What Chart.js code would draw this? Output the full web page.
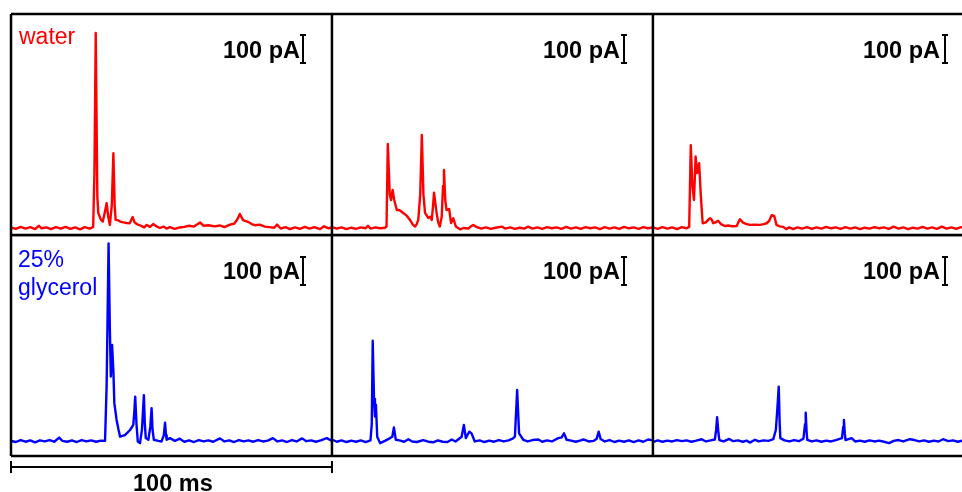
<!DOCTYPE html>
<html>
<head>
<meta charset="utf-8">
<script src="https://cdn.jsdelivr.net/npm/chart.js@4"></script>
<style>
  html, body { margin: 0; padding: 0; background: #fff; }
  body { width: 962px; height: 492px; position: relative; overflow: hidden; font-family: "Liberation Sans", Arial, sans-serif; }
  canvas { position: absolute; left: 0; }
  #topRow { top: 0; }
  #bottomRow { top: 235px; }
  .lbl { position: absolute; font-size: 23px; white-space: nowrap; }
  .pa { font-weight: bold; font-size: 23.5px; line-height: 23px; text-align: right; color: #000; }
  .pa.r1 { top: 39px; }
  .pa.r2 { top: 260px; }
  .pa.c1 { right: 662px; }
  .pa.c2 { right: 342px; }
  .pa.c3 { right: 22px; }
  #water { left: 19px; top: 25px; line-height: 23px; color: #f00; }
  #glycerol { left: 18px; top: 245px; line-height: 28px; color: #00f; }
  #ms { left: 133px; top: 472px; line-height: 23px; font-weight: bold; font-size: 23.5px; color: #000; }
</style>
</head>
<body>
<canvas id="topRow" width="962" height="240"></canvas>
<canvas id="bottomRow" width="962" height="257"></canvas>

<div class="lbl" id="water">water</div>
<div class="lbl" id="glycerol">25%<br>glycerol</div>
<div class="lbl pa r1 c1">100 pA</div>
<div class="lbl pa r1 c2">100 pA</div>
<div class="lbl pa r1 c3">100 pA</div>
<div class="lbl pa r2 c1">100 pA</div>
<div class="lbl pa r2 c2">100 pA</div>
<div class="lbl pa r2 c3">100 pA</div>
<div class="lbl" id="ms">100 ms</div>

<script>
// each panel is 100 ms long, current in pA (baseline ~0)
const panelStarts = [0, 100, 200];

// water, panel 1..3  [ms, pA]
const water1 = [[0,2],[1.5,-3],[3,4],[4.5,-2],[6,3],[7.5,-4],[8.7,8],[9.5,-1],[11,2],[12.5,-4],[14,3],[15.5,-2],[17,4],[18.5,-3],[20,2],[21.5,-5],[23,3],[24.5,-2],[25.6,4],[26.0,200],[26.4,696],[26.9,112],[27.2,53],[28.0,30],[28.6,23],[29.3,60],[29.8,89],[30.3,40],[30.8,11],[31.4,80],[31.9,267],[32.3,80],[32.6,29],[33.3,28],[34.0,23],[35.0,20],[36.0,18],[37.0,17],[37.9,39],[38.5,20],[39.2,14],[40.5,8],[41.5,2],[42.3,11],[43.3,4],[44.3,14],[45.3,6],[46.4,0],[47.5,5],[48.5,-2],[49.5,3],[51,-3],[52.6,2],[54,4],[55.5,8],[57,5],[58.9,20],[60,8],[61.5,10],[63.6,6],[65,9],[66.5,3],[68.2,12],[69.5,15],[70.5,30],[71.3,50],[72.3,28],[73.8,22],[75,14],[76,10],[77.5,12],[79.1,5],[80.5,3],[82,1],[82.9,12],[84,-2],[85.5,3],[86.9,-4],[88.5,2],[90,-3],[91.6,4],[93,-2],[94.5,3],[96.3,-4],[97.5,6],[99,-1],[100,2]];
const water2 = [[0,3],[1.5,-2],[3,2],[4.5,-4],[6,1],[7.5,-3],[9,2],[10.5,-1],[11.2,8],[12,-2],[13.5,2],[15,-1],[16.5,1],[17.0,5],[17.4,300],[18.0,120],[18.4,100],[18.9,136],[19.4,100],[20.2,64],[21.0,64],[21.7,58],[22.4,52],[23.1,46],[24.3,29],[25.2,12],[25.9,5],[26.4,14],[26.9,29],[27.5,120],[28.0,332],[28.5,120],[29.0,54],[30.0,36],[30.6,40],[31.1,29],[31.5,80],[31.8,126],[32.2,90],[32.6,54],[33.1,20],[33.6,5],[34.2,40],[34.6,150],[34.9,207],[35.3,100],[35.7,64],[36.1,66],[36.5,68],[37.1,18],[37.8,35],[38.6,5],[39.3,0],[39.9,-5],[41,0],[42.5,-2],[43.3,6],[44,11],[45,4],[46.5,-2],[48,2],[49.5,-3],[51,1],[52.9,5],[54,-2],[55.5,2],[57,-3],[58.5,1],[60,-2],[61.1,5],[62.5,-2],[64,2],[65.5,-3],[67,3],[68.5,-1],[70,2],[71.5,-3],[73,4],[74.5,-2],[76,2],[77.5,-3],[79,3],[80.5,-1],[82,2],[83.5,-4],[85,3],[86.5,-2],[88,2],[89.5,-3],[91,4],[92.5,-1],[94,2],[95.5,-3],[97,3],[98.5,-1],[100,2]];
const water3 = [[0,2],[1.5,-3],[3,3],[4.5,-2],[6,2],[7.5,-4],[9,3],[10.5,-1],[11.3,4],[11.8,296],[12.3,150],[12.8,100],[13.3,255],[13.8,196],[14.4,231],[14.9,120],[15.5,17],[16.5,20],[17.3,30],[17.8,35],[18.3,30],[18.8,17],[19.5,20],[20.3,26],[21.2,14],[22.4,7],[23.5,9],[24.8,6],[26.1,7],[26.6,20],[27.1,31],[28.1,19],[29,15],[30.2,11],[31.5,12],[33.3,11],[34.5,14],[35.4,17],[36.2,25],[37.0,46],[37.8,43],[38.5,11],[39.5,6],[40.6,4],[41.5,-4],[42.5,2],[43.7,-4],[45,2],[46.5,-2],[48,3],[49.5,-3],[51,2],[52.5,-2],[54,4],[55.5,-1],[57,2],[58.5,-3],[60,3],[61.5,-2],[63,2],[64.5,-4],[66,1],[67.5,-2],[69,3],[70.5,-1],[72,2],[73.5,-3],[75,5],[76.5,-2],[78,2],[79.5,-4],[81,1],[82.5,-2],[84,4],[85.5,-2],[87,2],[88.5,-3],[90,5],[91.5,-2],[93,2],[94.5,-3],[96,3],[97.5,-1],[99,2]];

// 25% glycerol, panel 1..3  [ms, pA]
const glyc1 = [[0,0],[1.5,-4],[3,3],[4.5,-3],[6,2],[7.5,-5],[9,2],[10.5,-2],[12,3],[13.5,-3],[15.0,12],[16,0],[17.5,-3],[19,2],[20.5,-4],[22,3],[23.5,-2],[25,2],[26.5,-3],[28,1],[29.3,0],[29.8,200],[30.4,706],[30.8,400],[31.1,230],[31.5,343],[31.9,250],[32.2,135],[32.9,75],[33.5,40],[34.0,15],[35.5,21],[37.1,39],[38.1,57],[38.4,100],[38.7,158],[39.1,60],[39.5,-2],[40.2,-8],[40.8,40],[41.4,163],[41.7,60],[42.0,10],[42.8,4],[43.4,50],[43.8,117],[44.1,40],[44.5,4],[45.9,0],[46.9,-2],[47.6,20],[48.0,65],[48.3,20],[48.5,4],[49.5,10],[51.1,0],[52.6,8],[54,-3],[55.5,2],[57,-4],[58.5,3],[60,-2],[61.5,2],[63,-3],[65.1,9],[66.5,-2],[68,2],[69.5,-4],[71,3],[72.5,-2],[74,2],[75.5,-3],[77,3],[78.5,-2],[80,1],[81.6,10],[83,-2],[84.5,2],[86,-4],[87.5,3],[89,-2],[90.7,9],[92,-1],[93.5,2],[95,-3],[96.5,2],[98.4,10],[100,0]];
const glyc2 = [[0,5],[1.5,-3],[3,2],[4.5,-4],[6,1],[7.5,-3],[9,2],[10.5,-4],[12,2],[12.4,60],[12.7,358],[13.1,150],[13.4,87],[13.7,129],[14.1,15],[15.0,-8],[16.5,0],[18.1,10],[18.8,15],[19.3,48],[19.9,4],[21,2],[22.5,-3],[23.8,6],[25,-2],[26.5,-4],[28.4,3],[30,-3],[31.5,-5],[33,2],[34.5,-3],[36,-4],[37.3,5],[38.5,-2],[40.4,15],[41.1,57],[41.7,10],[42.4,25],[42.8,33],[43.5,27],[44.5,-2],[46,2],[47.5,-4],[49,1],[50.5,-3],[52,3],[53.5,-2],[55,2],[56.3,8],[57.0,15],[57.7,182],[58.3,27],[59.6,4],[61,-2],[62.5,3],[64.3,5],[65.5,-3],[67,2],[68.5,-2],[70.5,10],[71.5,12],[72.3,27],[73.1,4],[74.5,1],[76,-3],[77.5,2],[78.3,5],[80,-2],[81.5,0],[82.5,8],[83.1,33],[83.7,7],[85,-2],[86.5,3],[88,-4],[89.5,1],[91,-3],[92.5,2],[94,-4],[95.5,2],[97,-3],[98.5,5],[100,2]];
const glyc3 = [[0,-4],[1.5,2],[3,-3],[4.5,1],[6,-2],[7.5,3],[9,-1],[10.5,2],[12,-3],[13.5,1],[15.2,6],[16.5,-2],[18,2],[19.3,5],[19.7,40],[20.0,85],[20.4,30],[20.7,3],[22,-2],[23.8,7],[25,-1],[26.5,2],[28,-3],[29.2,1],[30.2,-6],[31.8,4],[33,-2],[34.5,2],[36,0],[37.5,6],[38.3,39],[38.8,120],[39.2,194],[39.5,60],[39.7,10],[41,2],[42.5,-2],[44,3],[45.5,-1],[46.9,8],[47.4,60],[47.6,101],[47.9,30],[48.1,4],[49.5,-2],[51,2],[52.5,-3],[54,1],[55.5,-2],[57.0,3],[58.9,10],[59.3,50],[59.5,75],[59.8,25],[60.0,3],[61.9,10],[63,-2],[64.5,1],[66,-3],[67.5,2],[69,-2],[70.5,1],[72,-3],[73.6,-8],[75,0],[76.5,3],[78,-2],[80.1,6],[81.5,3],[83,-2],[84.5,2],[86,-3],[87.5,1],[89,-2],[90.4,6],[92,-1],[93.5,2],[95,-3],[96.5,1],[98,-2],[100,2]];

const waterPanels = [water1, water2, water3];
const glycPanels = [glyc1, glyc2, glyc3];

// scale bars
const scaleBarMs = 91;      // position of the 100 pA bar inside each panel
const scaleBarPA = 100;
const timeBarMs = 100;

function toDatasets(panels, color) {
  return panels.map((pts, i) => ({
    data: pts.map(p => ({ x: p[0] + panelStarts[i], y: p[1] })),
    borderColor: color,
    borderWidth: 2.4,
    borderJoinStyle: 'round',
    pointRadius: 0,
    tension: 0,
    fill: false
  }));
}

const framePlugin = {
  id: 'frame',
  afterDraw(chart, args, opts) {
    const { ctx, chartArea: a, scales: { x, y } } = chart;
    ctx.save();
    ctx.strokeStyle = '#000';
    ctx.lineWidth = 2.5;
    ctx.beginPath();
    ctx.moveTo(a.left, a.top); ctx.lineTo(a.right, a.top);
    ctx.moveTo(a.left, a.bottom); ctx.lineTo(a.right, a.bottom);
    panelStarts.forEach(t => {
      const px = x.getPixelForValue(t);
      ctx.moveTo(px, a.top); ctx.lineTo(px, a.bottom);
    });
    ctx.stroke();

    // 100 pA bars
    ctx.lineWidth = 2;
    const yLo = y.getPixelForValue(opts.barLow);
    const yHi = y.getPixelForValue(opts.barLow + scaleBarPA);
    ctx.beginPath();
    panelStarts.forEach(t => {
      const px = Math.round(x.getPixelForValue(t + scaleBarMs));
      ctx.moveTo(px, yHi); ctx.lineTo(px, yLo);
      ctx.moveTo(px - 3, yHi); ctx.lineTo(px + 3, yHi);
      ctx.moveTo(px - 3, yLo); ctx.lineTo(px + 3, yLo);
    });
    ctx.stroke();

    // 100 ms bar under the bottom row
    if (opts.timeBar) {
      const x0 = x.getPixelForValue(0), x1 = x.getPixelForValue(timeBarMs);
      const yb = a.bottom + 11;
      ctx.lineWidth = 2;
      ctx.beginPath();
      ctx.moveTo(x0, yb); ctx.lineTo(x1, yb);
      ctx.moveTo(x0, yb - 6); ctx.lineTo(x0, yb + 6);
      ctx.moveTo(x1, yb - 6); ctx.lineTo(x1, yb + 6);
      ctx.stroke();
    }
    ctx.restore();
  }
};

function makeRow(id, panels, color, yMin, yMax, padding, frameOpts) {
  return new Chart(document.getElementById(id), {
    type: 'line',
    data: { datasets: toDatasets(panels, color) },
    options: {
      responsive: false,
      animation: false,
      layout: { padding: padding },
      scales: {
        x: { type: 'linear', min: 0, max: 296.3, display: false },
        y: { min: yMin, max: yMax, display: false }
      },
      plugins: {
        legend: { display: false },
        tooltip: { enabled: false },
        frame: frameOpts
      }
    },
    plugins: [framePlugin]
  });
}

makeRow('topRow', waterPanels, '#ff0000', -25, 764,
  { left: 11, top: 14, right: 0, bottom: 5 }, { barLow: 589, timeBar: false });
makeRow('bottomRow', glycPanels, '#0000ff', -54, 736,
  { left: 11, top: 0, right: 0, bottom: 36 }, { barLow: 557, timeBar: true });
</script>
</body>
</html>
